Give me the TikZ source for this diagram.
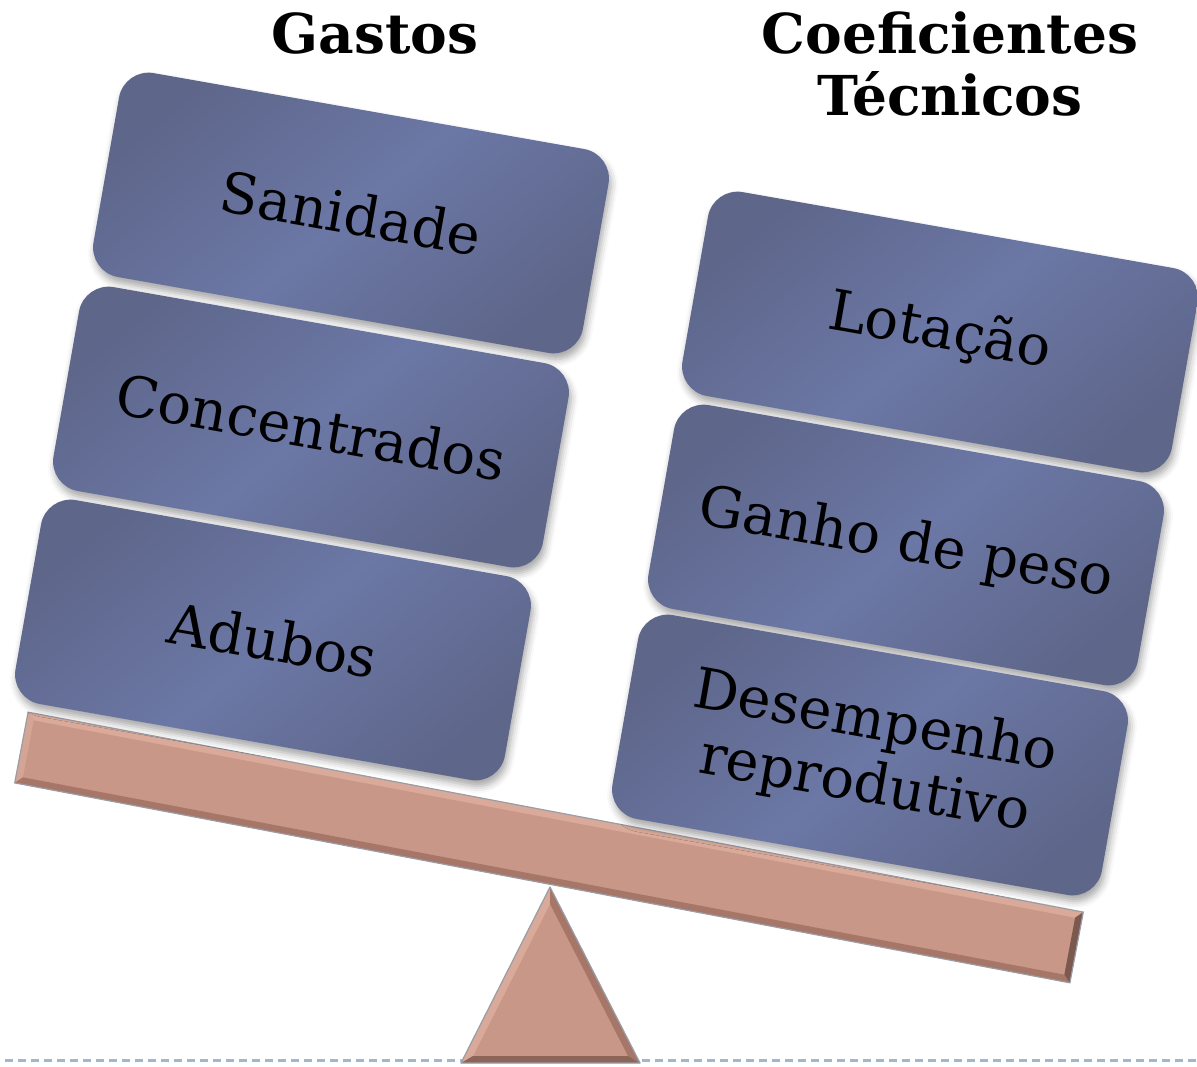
\documentclass[tikz,border=0pt]{standalone}
\usepackage{fontspec}
\setmainfont{DejaVu Serif}
\usetikzlibrary{shadows.blur}
\definecolor{boxdark}{HTML}{5E668A}
\definecolor{boxlight}{HTML}{6B77A5}
\definecolor{plank}{HTML}{C99787}
\definecolor{planklight}{HTML}{D9A999}
\definecolor{plankdark}{HTML}{A67768}
\definecolor{plankedge}{HTML}{9A9CA6}
\definecolor{dashc}{HTML}{A3B7CB}
\begin{document}
\begin{tikzpicture}[x=1pt,y=-1pt,
  card/.style={rectangle, rounded corners=30pt, minimum width=497pt, minimum height=207pt,
    rotate=-10, top color=boxdark, bottom color=boxdark, middle color=boxlight, shading angle=40,
    blur shadow={shadow xshift=2pt, shadow yshift=-6pt, shadow blur radius=7pt, shadow opacity=35},
    font=\fontsize{56}{64}\selectfont, align=center, inner sep=0pt, text=black},
  title/.style={font=\bfseries\fontsize{55}{62}\selectfont, align=center, text=black}]
\useasboundingbox (0,0) rectangle (1197,1067);
\clip (0,0) rectangle (1197,1067);
% dashed base line
\draw[dashc, line width=3pt, dash pattern=on 8pt off 5pt] (5,1060) -- (1197,1060);
% fulcrum triangle
\fill[plank] (550,887) -- (461,1063) -- (640,1063) -- cycle;
\fill[planklight] (550,887) -- (461,1063) -- (473,1056) -- (550,904) -- cycle;
\fill[plankdark] (550,887) -- (640,1063) -- (628,1056) -- (550,904) -- cycle;
\fill[plankdark!85!black] (461,1063) -- (640,1063) -- (628,1056) -- (473,1056) -- cycle;
\draw[plankedge, line width=1.2pt, line join=round] (550,887) -- (461,1063) -- (640,1063) -- cycle;
% plank
\begin{scope}[shift={(549,847.5)}, rotate=-10.73]
  \fill[plank] (-537,-36) rectangle (537,36);
  \fill[planklight] (-537,-36) -- (537,-36) -- (530,-29) -- (-530,-29) -- cycle;
  \fill[planklight!70!plank] (-537,-36) -- (-530,-29) -- (-530,29) -- (-537,36) -- cycle;
  \fill[plankdark] (-537,36) -- (537,36) -- (530,29) -- (-530,29) -- cycle;
  \fill[plankdark!75!black] (537,-36) -- (537,36) -- (530,29) -- (530,-29) -- cycle;
  \draw[plankedge, line width=1.2pt] (-537,-36) rectangle (537,36);
\end{scope}
% titles
\node[title] (gastos) at (375,33) {Gastos};
\node[title] (coef) at (950,64) {Coeficientes\\Técnicos};
% left stack
\node[card] (san) at (351,213) {Sanidade};
\node[card] (con) at (311,427) {Concentrados};
\node[card] (adu) at (273,640) {Adubos};
% right stack
\node[card] (lot) at (940,332) {Lotação};
\node[card] (gan) at (906,545) {Ganho de peso};
\node[card] (des) at (870,755) {Desempenho\\reprodutivo};
\end{tikzpicture}
\end{document}
